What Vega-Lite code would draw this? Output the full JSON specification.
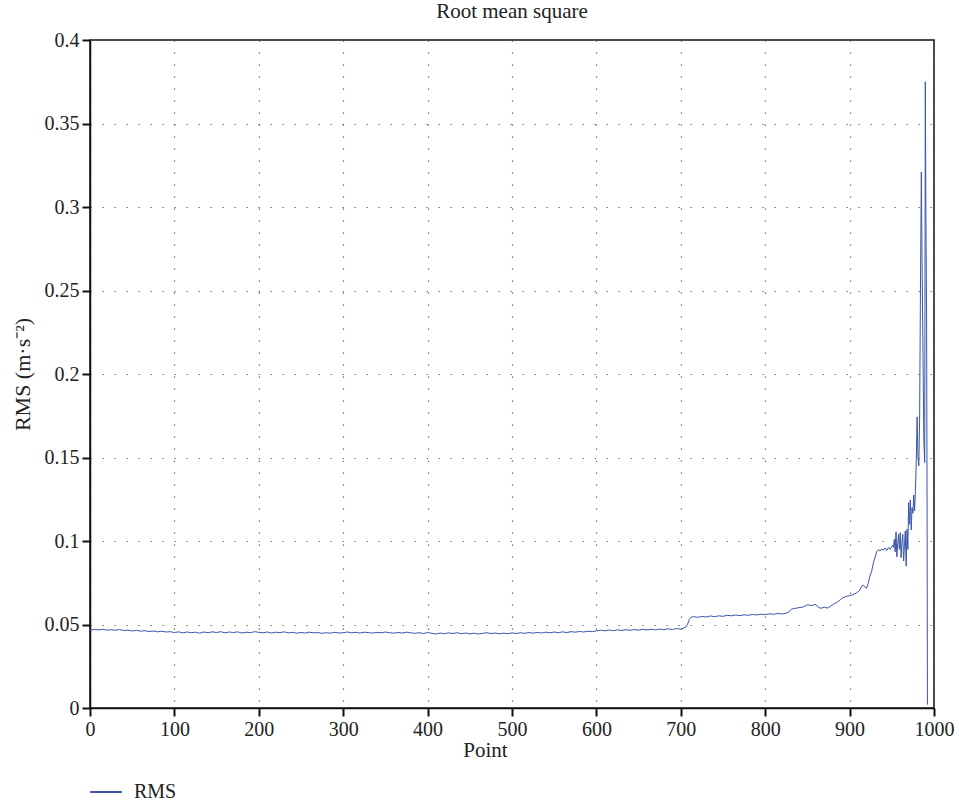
{
  "$schema": "https://vega.github.io/schema/vega-lite/v6.json",
  "width": 844,
  "height": 668,
  "autosize": {"type": "none"},
  "padding": {"left": 90, "top": 40, "right": 25, "bottom": 98},
  "background": "white",
  "title": {
    "text": "Root mean square",
    "font": "Liberation Serif",
    "fontSize": 21,
    "fontWeight": "normal",
    "color": "#222222",
    "anchor": "middle",
    "offset": 8
  },
  "config": {
    "view": {"stroke": "#111111", "strokeWidth": 1.5},
    "font": "Liberation Serif",
    "axis": {
      "labelFont": "Liberation Serif",
      "titleFont": "Liberation Serif",
      "labelFontSize": 20,
      "titleFontSize": 21,
      "titleFontWeight": "normal",
      "labelColor": "#222222",
      "titleColor": "#222222",
      "domainColor": "#111111",
      "domainWidth": 1.5,
      "tickColor": "#111111",
      "tickWidth": 2,
      "tickSize": 8,
      "gridColor": "#555555",
      "gridWidth": 1.2,
      "gridDash": [1.2, 10.8],
      "labelPadding": 3
    }
  },
  "data": {
    "values": [
      {"Point": 0, "RMS": 0.0466}, {"Point": 5, "RMS": 0.0470}, {"Point": 10, "RMS": 0.0468}, {"Point": 15, "RMS": 0.0471},
      {"Point": 20, "RMS": 0.0466}, {"Point": 25, "RMS": 0.0469}, {"Point": 30, "RMS": 0.0465}, {"Point": 35, "RMS": 0.0470},
      {"Point": 40, "RMS": 0.0464}, {"Point": 45, "RMS": 0.0466}, {"Point": 50, "RMS": 0.0461}, {"Point": 55, "RMS": 0.0465},
      {"Point": 60, "RMS": 0.0460}, {"Point": 65, "RMS": 0.0463}, {"Point": 70, "RMS": 0.0458}, {"Point": 75, "RMS": 0.0461},
      {"Point": 80, "RMS": 0.0456}, {"Point": 85, "RMS": 0.0460}, {"Point": 90, "RMS": 0.0455}, {"Point": 95, "RMS": 0.0457},
      {"Point": 100, "RMS": 0.0452}, {"Point": 105, "RMS": 0.0456}, {"Point": 110, "RMS": 0.0450}, {"Point": 115, "RMS": 0.0455},
      {"Point": 120, "RMS": 0.0451}, {"Point": 125, "RMS": 0.0454}, {"Point": 130, "RMS": 0.0448}, {"Point": 135, "RMS": 0.0455},
      {"Point": 140, "RMS": 0.0451}, {"Point": 145, "RMS": 0.0456}, {"Point": 150, "RMS": 0.0452}, {"Point": 155, "RMS": 0.0457},
      {"Point": 160, "RMS": 0.0450}, {"Point": 165, "RMS": 0.0455}, {"Point": 170, "RMS": 0.0452}, {"Point": 175, "RMS": 0.0456},
      {"Point": 180, "RMS": 0.0449}, {"Point": 185, "RMS": 0.0454}, {"Point": 190, "RMS": 0.0451}, {"Point": 195, "RMS": 0.0457},
      {"Point": 200, "RMS": 0.0453}, {"Point": 205, "RMS": 0.0450}, {"Point": 210, "RMS": 0.0455}, {"Point": 215, "RMS": 0.0449},
      {"Point": 220, "RMS": 0.0454}, {"Point": 225, "RMS": 0.0451}, {"Point": 230, "RMS": 0.0456}, {"Point": 235, "RMS": 0.0450},
      {"Point": 240, "RMS": 0.0453}, {"Point": 245, "RMS": 0.0448}, {"Point": 250, "RMS": 0.0452}, {"Point": 255, "RMS": 0.0449},
      {"Point": 260, "RMS": 0.0454}, {"Point": 265, "RMS": 0.0450}, {"Point": 270, "RMS": 0.0452}, {"Point": 275, "RMS": 0.0447},
      {"Point": 280, "RMS": 0.0451}, {"Point": 285, "RMS": 0.0448}, {"Point": 290, "RMS": 0.0453}, {"Point": 295, "RMS": 0.0449},
      {"Point": 300, "RMS": 0.0451}, {"Point": 305, "RMS": 0.0455}, {"Point": 310, "RMS": 0.0450}, {"Point": 315, "RMS": 0.0453},
      {"Point": 320, "RMS": 0.0449}, {"Point": 325, "RMS": 0.0454}, {"Point": 330, "RMS": 0.0451}, {"Point": 335, "RMS": 0.0449},
      {"Point": 340, "RMS": 0.0453}, {"Point": 345, "RMS": 0.0450}, {"Point": 350, "RMS": 0.0455}, {"Point": 355, "RMS": 0.0451},
      {"Point": 360, "RMS": 0.0448}, {"Point": 365, "RMS": 0.0452}, {"Point": 370, "RMS": 0.0449}, {"Point": 375, "RMS": 0.0454},
      {"Point": 380, "RMS": 0.0450}, {"Point": 385, "RMS": 0.0447}, {"Point": 390, "RMS": 0.0451}, {"Point": 395, "RMS": 0.0446},
      {"Point": 400, "RMS": 0.0452}, {"Point": 405, "RMS": 0.0447}, {"Point": 410, "RMS": 0.0443}, {"Point": 415, "RMS": 0.0449},
      {"Point": 420, "RMS": 0.0445}, {"Point": 425, "RMS": 0.0450}, {"Point": 430, "RMS": 0.0446}, {"Point": 435, "RMS": 0.0451},
      {"Point": 440, "RMS": 0.0445}, {"Point": 445, "RMS": 0.0449}, {"Point": 450, "RMS": 0.0444}, {"Point": 455, "RMS": 0.0448},
      {"Point": 460, "RMS": 0.0443}, {"Point": 465, "RMS": 0.0447}, {"Point": 470, "RMS": 0.0451}, {"Point": 475, "RMS": 0.0446},
      {"Point": 480, "RMS": 0.0449}, {"Point": 485, "RMS": 0.0444}, {"Point": 490, "RMS": 0.0448}, {"Point": 495, "RMS": 0.0445},
      {"Point": 500, "RMS": 0.0450}, {"Point": 505, "RMS": 0.0446}, {"Point": 510, "RMS": 0.0451}, {"Point": 515, "RMS": 0.0447},
      {"Point": 520, "RMS": 0.0452}, {"Point": 525, "RMS": 0.0448}, {"Point": 530, "RMS": 0.0453}, {"Point": 535, "RMS": 0.0449},
      {"Point": 540, "RMS": 0.0454}, {"Point": 545, "RMS": 0.0450}, {"Point": 550, "RMS": 0.0455}, {"Point": 555, "RMS": 0.0451},
      {"Point": 560, "RMS": 0.0456}, {"Point": 565, "RMS": 0.0452}, {"Point": 570, "RMS": 0.0457}, {"Point": 575, "RMS": 0.0454},
      {"Point": 580, "RMS": 0.0458}, {"Point": 585, "RMS": 0.0455}, {"Point": 590, "RMS": 0.0460}, {"Point": 595, "RMS": 0.0457},
      {"Point": 600, "RMS": 0.0462}, {"Point": 605, "RMS": 0.0466}, {"Point": 610, "RMS": 0.0462}, {"Point": 615, "RMS": 0.0467},
      {"Point": 620, "RMS": 0.0463}, {"Point": 625, "RMS": 0.0468}, {"Point": 630, "RMS": 0.0464}, {"Point": 635, "RMS": 0.0469},
      {"Point": 640, "RMS": 0.0465}, {"Point": 645, "RMS": 0.0470}, {"Point": 650, "RMS": 0.0466}, {"Point": 655, "RMS": 0.0471},
      {"Point": 660, "RMS": 0.0467}, {"Point": 665, "RMS": 0.0472}, {"Point": 670, "RMS": 0.0468}, {"Point": 675, "RMS": 0.0473},
      {"Point": 680, "RMS": 0.0469}, {"Point": 685, "RMS": 0.0474}, {"Point": 690, "RMS": 0.0470}, {"Point": 695, "RMS": 0.0476},
      {"Point": 700, "RMS": 0.0472}, {"Point": 703, "RMS": 0.0478}, {"Point": 706, "RMS": 0.0485}, {"Point": 708, "RMS": 0.0500},
      {"Point": 710, "RMS": 0.0530}, {"Point": 712, "RMS": 0.0542}, {"Point": 715, "RMS": 0.0547}, {"Point": 720, "RMS": 0.0543},
      {"Point": 725, "RMS": 0.0548}, {"Point": 730, "RMS": 0.0545}, {"Point": 735, "RMS": 0.0551}, {"Point": 740, "RMS": 0.0547},
      {"Point": 745, "RMS": 0.0552}, {"Point": 750, "RMS": 0.0549}, {"Point": 755, "RMS": 0.0555}, {"Point": 760, "RMS": 0.0552},
      {"Point": 765, "RMS": 0.0557}, {"Point": 770, "RMS": 0.0553}, {"Point": 775, "RMS": 0.0558}, {"Point": 780, "RMS": 0.0555},
      {"Point": 785, "RMS": 0.0560}, {"Point": 790, "RMS": 0.0557}, {"Point": 795, "RMS": 0.0562}, {"Point": 800, "RMS": 0.0559},
      {"Point": 805, "RMS": 0.0564}, {"Point": 810, "RMS": 0.0561}, {"Point": 815, "RMS": 0.0566}, {"Point": 820, "RMS": 0.0563},
      {"Point": 825, "RMS": 0.0568}, {"Point": 828, "RMS": 0.0575}, {"Point": 831, "RMS": 0.0592}, {"Point": 835, "RMS": 0.0596},
      {"Point": 840, "RMS": 0.0601}, {"Point": 845, "RMS": 0.0605}, {"Point": 850, "RMS": 0.0618}, {"Point": 855, "RMS": 0.0614},
      {"Point": 860, "RMS": 0.0620}, {"Point": 863, "RMS": 0.0603}, {"Point": 866, "RMS": 0.0597}, {"Point": 870, "RMS": 0.0604},
      {"Point": 874, "RMS": 0.0598}, {"Point": 877, "RMS": 0.0608}, {"Point": 881, "RMS": 0.0622}, {"Point": 885, "RMS": 0.0633},
      {"Point": 889, "RMS": 0.0648}, {"Point": 892, "RMS": 0.0660}, {"Point": 896, "RMS": 0.0668}, {"Point": 900, "RMS": 0.0673},
      {"Point": 904, "RMS": 0.0679}, {"Point": 908, "RMS": 0.0688}, {"Point": 912, "RMS": 0.0705}, {"Point": 914, "RMS": 0.0725},
      {"Point": 916, "RMS": 0.0737}, {"Point": 918, "RMS": 0.0726}, {"Point": 920, "RMS": 0.0717}, {"Point": 922, "RMS": 0.0745},
      {"Point": 924, "RMS": 0.0790}, {"Point": 926, "RMS": 0.0815}, {"Point": 928, "RMS": 0.0866}, {"Point": 930, "RMS": 0.0900},
      {"Point": 932, "RMS": 0.0935}, {"Point": 934, "RMS": 0.0948}, {"Point": 936, "RMS": 0.0940}, {"Point": 938, "RMS": 0.0952},
      {"Point": 940, "RMS": 0.0945}, {"Point": 942, "RMS": 0.0958}, {"Point": 944, "RMS": 0.0943}, {"Point": 946, "RMS": 0.0962},
      {"Point": 948, "RMS": 0.0950}, {"Point": 950, "RMS": 0.0968}, {"Point": 951, "RMS": 0.0975}, {"Point": 952, "RMS": 0.0962},
      {"Point": 953, "RMS": 0.1010}, {"Point": 954, "RMS": 0.0935}, {"Point": 955, "RMS": 0.1055}, {"Point": 956, "RMS": 0.0905},
      {"Point": 957, "RMS": 0.0985}, {"Point": 958, "RMS": 0.1040}, {"Point": 959, "RMS": 0.0950}, {"Point": 960, "RMS": 0.1050},
      {"Point": 961, "RMS": 0.0900}, {"Point": 962, "RMS": 0.0990}, {"Point": 963, "RMS": 0.1040}, {"Point": 964, "RMS": 0.0880},
      {"Point": 965, "RMS": 0.0975}, {"Point": 966, "RMS": 0.1060}, {"Point": 967, "RMS": 0.0850}, {"Point": 968, "RMS": 0.1070},
      {"Point": 969, "RMS": 0.0950}, {"Point": 970, "RMS": 0.1230}, {"Point": 971, "RMS": 0.1100}, {"Point": 972, "RMS": 0.1246},
      {"Point": 973, "RMS": 0.1066}, {"Point": 974, "RMS": 0.1200}, {"Point": 975, "RMS": 0.1166}, {"Point": 976, "RMS": 0.1275},
      {"Point": 977, "RMS": 0.1180}, {"Point": 978, "RMS": 0.1300}, {"Point": 979, "RMS": 0.1480}, {"Point": 980, "RMS": 0.1743},
      {"Point": 981, "RMS": 0.1500}, {"Point": 982, "RMS": 0.1450}, {"Point": 983, "RMS": 0.1750}, {"Point": 984, "RMS": 0.2550},
      {"Point": 985, "RMS": 0.3210}, {"Point": 986, "RMS": 0.2600}, {"Point": 987, "RMS": 0.2100}, {"Point": 988, "RMS": 0.1600},
      {"Point": 989, "RMS": 0.1470}, {"Point": 989.7, "RMS": 0.3750}, {"Point": 990.5, "RMS": 0.2880}, {"Point": 991.2, "RMS": 0.2365},
      {"Point": 991.8, "RMS": 0.1200}, {"Point": 992.2, "RMS": 0.0020}
    ]
  },
  "mark": {"type": "line", "strokeWidth": 1, "clip": true},
  "encoding": {
    "x": {
      "field": "Point",
      "type": "quantitative",
      "scale": {"domain": [0, 1000], "nice": false},
      "axis": {
        "title": "Point",
        "values": [0, 100, 200, 300, 400, 500, 600, 700, 800, 900, 1000],
        "format": "d",
        "labelFont": "Liberation Serif",
        "titleFont": "Liberation Serif",
        "titlePadding": 0,
        "titleX": 395,
        "labelFlush": false,
        "grid": true
      }
    },
    "y": {
      "field": "RMS",
      "type": "quantitative",
      "scale": {"domain": [0, 0.4], "nice": false, "zero": true},
      "axis": {
        "title": "RMS (m·s⁻²)",
        "values": [0, 0.05, 0.1, 0.15, 0.2, 0.25, 0.3, 0.35, 0.4],
        "format": "~g",
        "labelFont": "Liberation Serif",
        "titleFont": "Liberation Serif",
        "titleFontSize": 22,
        "titlePadding": 10,
        "labelFlush": false,
        "grid": true
      }
    },
    "color": {
      "datum": "RMS",
      "type": "nominal",
      "scale": {"range": ["#3a55a8"]},
      "legend": {
        "title": null,
        "orient": "none",
        "legendX": -1,
        "legendY": 735,
        "padding": 0,
        "symbolType": "stroke",
        "symbolSize": 1000,
        "symbolStrokeWidth": 2,
        "labelFont": "Liberation Serif",
        "labelFontSize": 20,
        "labelColor": "#222222",
        "labelOffset": 11
      }
    }
  }
}
